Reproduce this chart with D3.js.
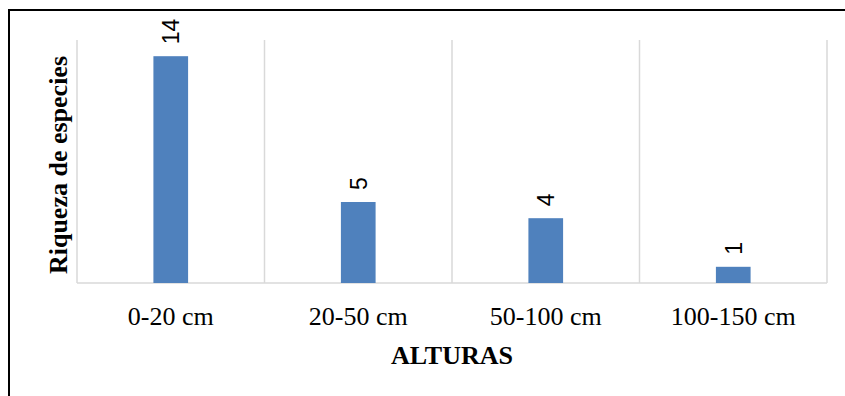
<!DOCTYPE html>
<html>
<head>
<meta charset="utf-8">
<script src="https://cdn.jsdelivr.net/npm/d3@7"></script>
<style>
  html, body { margin: 0; padding: 0; background: #fff; }
  svg { display: block; }
</style>
</head>
<body>
<svg id="chart" width="845" height="396"></svg>
<script>
const categories = ["0-20 cm", "20-50 cm", "50-100 cm", "100-150 cm"];
const values = [14, 5, 4, 1];
const xTitle = "ALTURAS";
const yTitle = "Riqueza de especies";

const W = 845, H = 396;
const plot = { left: 77, right: 827, top: 40, bottom: 283 };

const svg = d3.select("#chart");

// outer frame (left + top)
svg.append("path")
  .attr("d", `M9,${H} L9,10 L${W},10`)
  .attr("fill", "none")
  .attr("stroke", "#000")
  .attr("stroke-width", 2);

const xCat = d3.scaleBand().domain(categories).range([plot.left, plot.right]).padding(0);
const xBar = d3.scaleBand().domain(categories).range([plot.left, plot.right])
  .paddingInner(0.815).paddingOuter(0.4075);
const y = d3.scaleLinear().domain([0, 15]).range([plot.bottom, plot.top]);

// vertical gridlines at category boundaries
const bounds = categories.map(c => xCat(c)).concat([xCat(categories[categories.length - 1]) + xCat.bandwidth()]);
svg.append("g").selectAll("line").data(bounds).join("line")
  .attr("x1", d => d).attr("x2", d => d)
  .attr("y1", y(15)).attr("y2", y(0))
  .attr("stroke", "#d9d9d9").attr("stroke-width", 1.5);

// baseline
svg.append("line")
  .attr("x1", plot.left).attr("x2", plot.right)
  .attr("y1", y(0)).attr("y2", y(0))
  .attr("stroke", "#d9d9d9").attr("stroke-width", 1.5);

// bars
svg.append("g").selectAll("rect").data(values).join("rect")
  .attr("x", (d, i) => xBar(categories[i]))
  .attr("width", xBar.bandwidth())
  .attr("y", d => y(d))
  .attr("height", d => y(0) - y(d))
  .attr("fill", "#4f81bd");

// data labels (rotated)
svg.append("g").selectAll("text").data(values).join("text")
  .attr("transform", (d, i) => {
    const cx = xBar(categories[i]) + xBar.bandwidth() / 2 + 8.5;
    return `translate(${cx},${y(d) - 12}) rotate(-90)`;
  })
  .attr("text-anchor", "start")
  .attr("font-family", "Liberation Sans, Arial, sans-serif")
  .attr("font-size", 23)
  .attr("fill", "#000")
  .text(d => d);

// x axis labels
const xAxis = d3.axisBottom(xCat).tickSize(0).tickPadding(0);
const gx = svg.append("g").attr("transform", `translate(0,325)`).call(xAxis);
gx.select(".domain").remove();
gx.selectAll("text")
  .attr("dy", 0).attr("y", 0)
  .attr("font-family", "Liberation Serif, Times New Roman, serif")
  .attr("font-size", 26)
  .attr("fill", "#000");

// axis titles
svg.append("text")
  .attr("x", (plot.left + plot.right) / 2).attr("y", 364)
  .attr("text-anchor", "middle")
  .attr("font-family", "Liberation Serif, Times New Roman, serif")
  .attr("font-weight", "bold")
  .attr("font-size", 26)
  .text(xTitle);

svg.append("text")
  .attr("transform", `translate(67,165) rotate(-90)`)
  .attr("text-anchor", "middle")
  .attr("font-family", "Liberation Serif, Times New Roman, serif")
  .attr("font-weight", "bold")
  .attr("font-size", 26)
  .text(yTitle);
</script>
</body>
</html>
